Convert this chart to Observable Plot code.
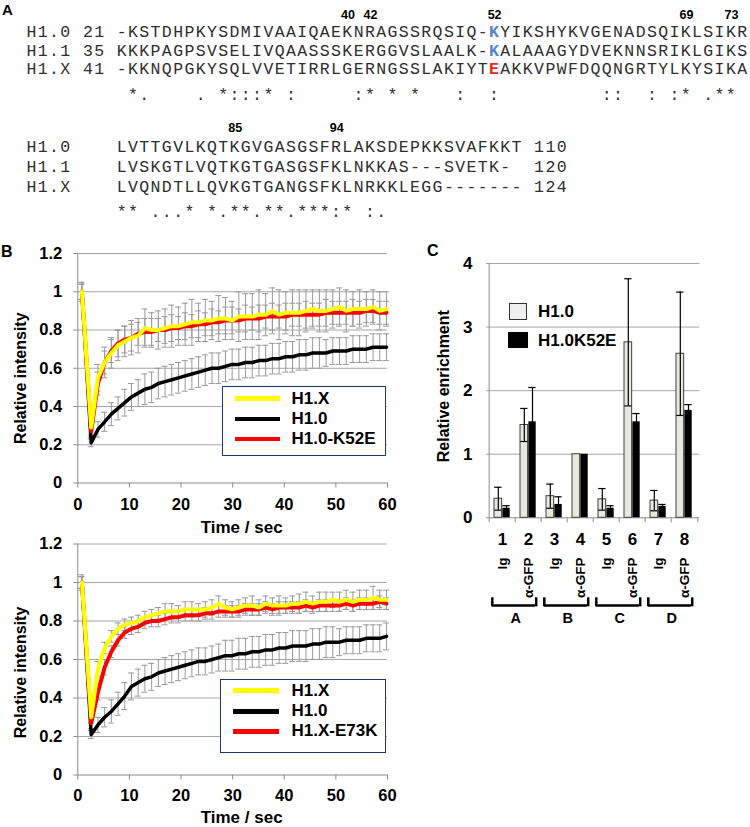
<!DOCTYPE html>
<html><head><meta charset="utf-8">
<script src="https://cdn.jsdelivr.net/npm/d3@7"></script>
<script src="https://cdn.jsdelivr.net/npm/@observablehq/plot@0.6"></script>
<style>
html,body{margin:0;padding:0;background:#fff;}
#fig{position:relative;width:750px;height:827px;overflow:hidden;background:#fff;font-family:"Liberation Sans",Arial,sans-serif;}
.lab{position:absolute;white-space:pre;line-height:1;}
</style></head>
<body><div id="fig"></div>
<script>
// ---------------- DATA ----------------
// Panel A: alignment
const seqNames = ["H1.0", "H1.1", "H1.X"];
const seqStarts = ["21", "35", "41"];
const seqPre = ["-KSTDHPKYSDMIVAAIQAEKNRAGSSRQSIQ-", "KKKPAGPSVSELIVQAASSSKERGGVSLAALK-", "-KKNQPGKYSQLVVETIRRLGERNGSSLAKIYT"];
const seqKey = ["K", "K", "E"];
const seqKeyColor = ["#5284c4", "#5284c4", "#e8251f"];
const seqPost = ["YIKSHYKVGENADSQIKLSIKR", "ALAAAGYDVEKNNSRIKLGIKS", "AKKVPWFDQQNGRTYLKYSIKA"];
const cons1 = "         *.    . *:::* :     :* * *   :  :         ::  : :* .**";
const seq2 = ["LVTTGVLKQTKGVGASGSFRLAKSDEPKKSVAFKKT", "LVSKGTLVQTKGTGASGSFKLNKKAS---SVETK-", "LVQNDTLLQVKGTGANGSFKLNRKKLEGG-------"];
const seqEnds = ["110", "120", "124"];
const cons2 = "        ** ...* *.**.**.***:* :.";
const marks1 = [40, 42, 52, 69, 73];
const marks2 = [85, 94];

// Panel B: FRAP
const T = [0.8, 2.6, 3.9, 5.2, 6.5, 7.8, 9.1, 10.4, 11.7, 13.0, 14.3, 15.6, 16.9, 18.2, 19.5, 20.8, 22.1, 23.4, 24.7, 26.0, 27.3, 28.6, 29.9, 31.2, 32.5, 33.8, 35.1, 36.4, 37.7, 39.0, 40.3, 41.6, 42.9, 44.2, 45.5, 46.8, 48.1, 49.4, 50.7, 52.0, 53.3, 54.6, 55.9, 57.2, 58.5, 59.8];
const topH1X = [1.00, 0.29, 0.55, 0.63, 0.68, 0.72, 0.74, 0.76, 0.77, 0.81, 0.80, 0.80, 0.81, 0.82, 0.82, 0.83, 0.84, 0.84, 0.85, 0.85, 0.86, 0.86, 0.85, 0.87, 0.87, 0.87, 0.88, 0.88, 0.90, 0.88, 0.89, 0.89, 0.89, 0.90, 0.91, 0.90, 0.90, 0.91, 0.92, 0.90, 0.91, 0.91, 0.91, 0.92, 0.90, 0.91];
const topH1XErr = [0.05, 0.04, 0.07, 0.08, 0.08, 0.08, 0.08, 0.09, 0.09, 0.10, 0.09, 0.10, 0.10, 0.11, 0.10, 0.11, 0.12, 0.10, 0.11, 0.10, 0.12, 0.11, 0.10, 0.13, 0.12, 0.12, 0.13, 0.11, 0.12, 0.13, 0.11, 0.12, 0.12, 0.11, 0.10, 0.11, 0.11, 0.10, 0.10, 0.11, 0.09, 0.10, 0.09, 0.09, 0.10, 0.09];
const topH10 = [1.00, 0.21, 0.28, 0.32, 0.36, 0.39, 0.42, 0.45, 0.47, 0.49, 0.50, 0.52, 0.53, 0.54, 0.55, 0.56, 0.57, 0.58, 0.59, 0.60, 0.60, 0.61, 0.62, 0.62, 0.63, 0.63, 0.64, 0.64, 0.65, 0.65, 0.66, 0.66, 0.67, 0.67, 0.68, 0.68, 0.68, 0.69, 0.69, 0.69, 0.70, 0.70, 0.70, 0.71, 0.71, 0.71];
const topH10Err = [0.04, 0.02, 0.04, 0.05, 0.06, 0.06, 0.07, 0.07, 0.07, 0.08, 0.08, 0.08, 0.08, 0.08, 0.08, 0.08, 0.08, 0.08, 0.08, 0.08, 0.08, 0.08, 0.08, 0.08, 0.08, 0.08, 0.08, 0.08, 0.08, 0.08, 0.08, 0.08, 0.08, 0.08, 0.08, 0.08, 0.07, 0.07, 0.07, 0.07, 0.07, 0.07, 0.07, 0.07, 0.07, 0.07];
const topK52E = [1.00, 0.27, 0.52, 0.63, 0.69, 0.73, 0.75, 0.76, 0.78, 0.79, 0.79, 0.80, 0.80, 0.81, 0.81, 0.82, 0.82, 0.83, 0.83, 0.84, 0.84, 0.85, 0.85, 0.85, 0.86, 0.86, 0.86, 0.87, 0.87, 0.87, 0.87, 0.88, 0.88, 0.88, 0.88, 0.88, 0.89, 0.89, 0.89, 0.89, 0.89, 0.89, 0.90, 0.90, 0.89, 0.89];
const topK52EErr = [0.04, 0.03, 0.06, 0.06, 0.06, 0.07, 0.07, 0.07, 0.06, 0.07, 0.07, 0.06, 0.07, 0.07, 0.06, 0.07, 0.06, 0.07, 0.06, 0.07, 0.06, 0.07, 0.07, 0.06, 0.07, 0.06, 0.07, 0.06, 0.07, 0.06, 0.07, 0.06, 0.06, 0.07, 0.06, 0.06, 0.07, 0.06, 0.06, 0.06, 0.07, 0.06, 0.06, 0.06, 0.06, 0.06];

const botH1X = [1.00, 0.30, 0.55, 0.66, 0.72, 0.76, 0.78, 0.79, 0.80, 0.82, 0.83, 0.84, 0.85, 0.85, 0.85, 0.86, 0.86, 0.86, 0.86, 0.87, 0.89, 0.87, 0.86, 0.87, 0.88, 0.88, 0.87, 0.89, 0.88, 0.88, 0.88, 0.89, 0.89, 0.90, 0.89, 0.90, 0.90, 0.91, 0.90, 0.91, 0.90, 0.91, 0.91, 0.92, 0.91, 0.91];
const botH1XErr = [0.04, 0.03, 0.04, 0.03, 0.03, 0.03, 0.03, 0.03, 0.03, 0.03, 0.03, 0.03, 0.04, 0.04, 0.03, 0.04, 0.04, 0.03, 0.04, 0.04, 0.04, 0.04, 0.04, 0.04, 0.04, 0.05, 0.04, 0.04, 0.04, 0.05, 0.04, 0.04, 0.05, 0.05, 0.04, 0.05, 0.05, 0.04, 0.05, 0.05, 0.05, 0.05, 0.05, 0.06, 0.05, 0.05];
const botH10 = [1.00, 0.21, 0.26, 0.30, 0.33, 0.37, 0.41, 0.46, 0.48, 0.50, 0.51, 0.53, 0.54, 0.55, 0.56, 0.57, 0.58, 0.59, 0.59, 0.60, 0.61, 0.62, 0.62, 0.63, 0.63, 0.64, 0.64, 0.65, 0.65, 0.66, 0.66, 0.67, 0.67, 0.67, 0.68, 0.68, 0.69, 0.69, 0.69, 0.70, 0.70, 0.70, 0.71, 0.71, 0.71, 0.72];
const botH10Err = [0.03, 0.02, 0.04, 0.05, 0.06, 0.06, 0.07, 0.07, 0.07, 0.07, 0.07, 0.07, 0.07, 0.07, 0.07, 0.07, 0.07, 0.07, 0.07, 0.07, 0.07, 0.08, 0.08, 0.08, 0.08, 0.08, 0.08, 0.08, 0.08, 0.08, 0.08, 0.08, 0.08, 0.08, 0.08, 0.08, 0.08, 0.08, 0.07, 0.07, 0.07, 0.07, 0.07, 0.07, 0.07, 0.07];
const botE73K = [1.00, 0.27, 0.43, 0.56, 0.64, 0.70, 0.74, 0.76, 0.77, 0.79, 0.80, 0.80, 0.81, 0.82, 0.82, 0.83, 0.83, 0.83, 0.84, 0.84, 0.85, 0.85, 0.85, 0.85, 0.86, 0.86, 0.86, 0.87, 0.86, 0.87, 0.87, 0.87, 0.87, 0.88, 0.87, 0.88, 0.88, 0.88, 0.88, 0.89, 0.88, 0.89, 0.89, 0.89, 0.90, 0.89];
const botE73KErr = [0.03, 0.03, 0.04, 0.04, 0.03, 0.03, 0.03, 0.03, 0.03, 0.03, 0.03, 0.03, 0.03, 0.03, 0.03, 0.03, 0.03, 0.03, 0.03, 0.03, 0.03, 0.03, 0.03, 0.03, 0.03, 0.03, 0.03, 0.03, 0.03, 0.03, 0.03, 0.03, 0.03, 0.03, 0.03, 0.03, 0.03, 0.03, 0.03, 0.03, 0.03, 0.03, 0.03, 0.03, 0.03, 0.03];
const yTicksB = [0, 0.2, 0.4, 0.6, 0.8, 1, 1.2];
const xTicksB = [0, 10, 20, 30, 40, 50, 60];

// Panel C: ChIP enrichment
const cats = ["1", "2", "3", "4", "5", "6", "7", "8"];
const abLabels = ["Ig", "α-GFP", "Ig", "α-GFP", "Ig", "α-GFP", "Ig", "α-GFP"];
const h10 = [0.30, 1.46, 0.34, 1.00, 0.29, 2.76, 0.27, 2.58];
const h10Err = [0.18, 0.26, 0.19, 0, 0.17, 1.00, 0.16, 0.97];
const k52e = [0.15, 1.51, 0.21, 1.00, 0.15, 1.51, 0.18, 1.69];
const k52eErr = [0.04, 0.54, 0.12, 0, 0.04, 0.13, 0.03, 0.09];
const groupNames = ["A", "B", "C", "D"];
const groupFrom = ["1", "3", "5", "7"];
const groupTo = ["2", "4", "6", "8"];
const yTicksC = [0, 1, 2, 3, 4];

// ---------------- STYLE / LAYOUT ----------------
const SANS = '"Liberation Sans", Arial, sans-serif';
const MONO = '"Liberation Mono", "Courier New", monospace';
const GRID = "#a6a6a6", AXIS = "#8c8c8c", ERR = "#999999";
const fig = document.getElementById("fig");

function put(node, left, top) {
  const d = document.createElement("div");
  d.style.cssText = `position:absolute;left:${left}px;top:${top}px;`;
  d.appendChild(node);
  fig.appendChild(d);
}
function label(txt, x, base, fs, color = "#000") {
  const d = document.createElement("div");
  d.className = "lab";
  d.textContent = txt;
  d.style.cssText += `left:${x}px;top:${base - 0.8465 * fs}px;font-size:${fs}px;font-weight:bold;color:${color};font-family:${SANS};`;
  fig.appendChild(d);
}
function box(left, top, w, h, css) {
  const d = document.createElement("div");
  d.style.cssText = `position:absolute;left:${left}px;top:${top}px;width:${w}px;height:${h}px;box-sizing:border-box;${css}`;
  fig.appendChild(d);
}
const plotStyle = {background: "transparent", overflow: "visible", fontFamily: SANS, fontWeight: "bold", fontSize: "15px", color: "#000"};
const bold = (fs) => ({fontSize: fs, fontWeight: "bold", fontFamily: SANS, fill: "#000"});

// ---------------- PANEL A ----------------
const CELL = 11.28;          // column pitch in px
const MONO_FS = 16.5;        // glyph size; pitch kept by letter-spacing
const BASE = {n1: 18.5, r1: [36, 55, 73.5], c1: 99, n2: 131.5, r2: [151, 171, 191], c2: 216};
const plainA = [], keyA = [], numA = [];
seqNames.forEach((n, i) => {
  plainA.push({col: 0, y: BASE.r1[i], text: n});
  plainA.push({col: 5, y: BASE.r1[i], text: seqStarts[i]});
  plainA.push({col: 8, y: BASE.r1[i], text: seqPre[i]});
  keyA.push({col: 8 + seqPre[i].length, y: BASE.r1[i], text: seqKey[i], color: seqKeyColor[i]});
  plainA.push({col: 9 + seqPre[i].length, y: BASE.r1[i], text: seqPost[i]});
  plainA.push({col: 0, y: BASE.r2[i], text: n});
  plainA.push({col: 8, y: BASE.r2[i], text: seq2[i]});
  plainA.push({col: 45, y: BASE.r2[i], text: seqEnds[i]});
});
for (const m of cons1.matchAll(/\S+/g)) plainA.push({col: m.index, y: BASE.c1, text: m[0]});
for (const m of cons2.matchAll(/\S+/g)) plainA.push({col: m.index, y: BASE.c2, text: m[0]});
const full1 = seqPre[0] + seqKey[0] + seqPost[0];
function colOf(seq, first, n) {
  let r = first - 1;
  for (let k = 0; k < seq.length; k++) { if (seq[k] !== "-") r++; if (r === n) return 8 + k; }
}
marks1.forEach(n => numA.push({col: colOf(full1, 21, n), y: BASE.n1, text: String(n)}));
marks2.forEach(n => numA.push({col: colOf(seq2[0], 75, n), y: BASE.n2, text: String(n)}));

const panelA = Plot.plot({
  width: 750, height: 225, marginTop: 0, marginBottom: 0, marginLeft: 26, marginRight: 750 - 26 - 64 * CELL,
  axis: null,
  x: {domain: [0, 64], axis: null},
  y: {type: "identity", axis: null},
  style: plotStyle,
  marks: [
    Plot.text(plainA, {x: "col", y: "y", text: "text", textAnchor: "start", lineAnchor: "bottom", fontFamily: MONO, fontSize: MONO_FS, fontWeight: "normal", fill: "#2e2e2e"}),
    Plot.text(keyA, {x: "col", y: "y", text: "text", textAnchor: "start", lineAnchor: "bottom", fontFamily: MONO, fontSize: MONO_FS, fontWeight: "bold", fill: "color"}),
    Plot.text(numA, {x: d => d.col + 0.5, y: "y", text: "text", textAnchor: "middle", lineAnchor: "bottom", fontFamily: SANS, fontSize: 12.5, fontWeight: "bold", fill: "#000"})
  ]
});
// keep the monospace pitch equal to one column
d3.select(panelA).selectAll("g[font-family*='Mono'] text").style("letter-spacing", (CELL - 0.6 * MONO_FS) + "px");
put(panelA, 0, 0);

// ---------------- PANEL B ----------------
function frap({height, mt, mb, series, tickPad, titleDy, ylabDy}) {
  const errs = series.flatMap(s => T.map((t, i) => ({t, lo: s.v[i] - s.e[i], hi: s.v[i] + s.e[i]})));
  return Plot.plot({
    width: 400, height, marginLeft: 77.3, marginRight: 13, marginTop: mt, marginBottom: mb,
    axis: null,
    x: {domain: [0, 60], axis: null},
    y: {domain: [0, 1.2], axis: null},
    style: plotStyle,
    marks: [
      Plot.ruleY(yTicksB.filter(d => d > 0), {stroke: GRID, strokeWidth: 1}),
      Plot.ruleY([0], {stroke: AXIS}),
      Plot.ruleX([0], {stroke: AXIS}),
      Plot.ruleY(yTicksB, {y: d => d, x1: 0, x2: 0, insetLeft: -4, stroke: AXIS}),
      Plot.ruleX(xTicksB, {x: d => d, y1: 0, y2: 0, insetBottom: -5, stroke: AXIS}),
      Plot.text(yTicksB, {y: d => d, text: d => String(d), frameAnchor: "left", dx: -15.6, textAnchor: "end", lineAnchor: "middle", ...bold(16.5)}),
      Plot.text(xTicksB, {x: d => d, text: d => String(d), frameAnchor: "bottom", dy: 5 + tickPad, textAnchor: "middle", lineAnchor: "top", ...bold(16.5)}),
      Plot.ruleX(errs, {x: "t", y1: "lo", y2: "hi", stroke: ERR, strokeWidth: 1}),
      Plot.ruleY(errs, {y: "hi", x1: "t", x2: "t", insetLeft: -3, insetRight: -3, stroke: ERR, strokeWidth: 1}),
      Plot.ruleY(errs, {y: "lo", x1: "t", x2: "t", insetLeft: -3, insetRight: -3, stroke: ERR, strokeWidth: 1}),
      ...series.map(s => Plot.line(T.map((t, i) => ({t, v: s.v[i]})), {x: "t", y: "v", stroke: s.color, strokeWidth: s.w, strokeLinejoin: "round"})),
      Plot.text(["Time / sec"], {frameAnchor: "bottom", dx: 9, dy: titleDy, textAnchor: "middle", lineAnchor: "bottom", ...bold(17)}),
      Plot.text(["Relative intensity"], {frameAnchor: "left", rotate: -90, dx: -57.3, dy: ylabDy, textAnchor: "middle", lineAnchor: "middle", ...bold(16)})
    ]
  });
}
const bTop = frap({height: 300, mt: 13, mb: 57.5, tickPad: 10.3, titleDy: 50, ylabDy: 10, series: [
  {v: topH10, e: topH10Err, color: "#000", w: 3.5},
  {v: topK52E, e: topK52EErr, color: "#ff0000", w: 4},
  {v: topH1X, e: topH1XErr, color: "#ffff00", w: 4}
]});
put(bTop, 0, 240);
const bBot = frap({height: 297, mt: 13.5, mb: 52.5, tickPad: 9, titleDy: 48, ylabDy: 13, series: [
  {v: botH10, e: botH10Err, color: "#000", w: 3.5},
  {v: botE73K, e: botE73KErr, color: "#ff0000", w: 4},
  {v: botH1X, e: botH1XErr, color: "#ffff00", w: 4}
]});
put(bBot, 0, 530);

// legends B
box(222, 386, 164, 70, "border:1px solid #1f3864;background:#fff;");
[["H1.X", "#ffff00", 398, 404], ["H1.0", "#000", 418.7, 424], ["H1.0-K52E", "#ff0000", 438.7, 444]].forEach(([t, c, cy, b]) => {
  box(235, cy - 2, 45, 4.5, `background:${c};`);
  label(t, 291.5, b, 17);
});
box(220, 679, 166, 74, "border:1px solid #1f3864;background:#fff;");
[["H1.X", "#ffff00", 690.3, 696.7], ["H1.0", "#000", 711.3, 716.7], ["H1.X-E73K", "#ff0000", 731.3, 736.7]].forEach(([t, c, cy, b]) => {
  box(233, cy - 2, 46, 4.5, `background:${c};`);
  label(t, 291.5, b, 17);
});

// ---------------- PANEL C ----------------
const tableC = cats.map((c, i) => ({cat: c, h10: h10[i], h10e: h10Err[i], k: k52e[i], ke: k52eErr[i], ab: abLabels[i]}));
const groupsC = groupNames.map((g, i) => ({name: g, from: groupFrom[i], to: groupTo[i]}));
const BW = (350 - 86 - 50.7) / 8;
const errH = tableC.filter(d => d.h10e > 0), errK = tableC.filter(d => d.ke > 0);
const panelC = Plot.plot({
  width: 350, height: 387, marginLeft: 86, marginRight: 50.7, marginTop: 23, marginBottom: 109.7,
  axis: null,
  x: {type: "band", domain: cats, padding: 0, axis: null},
  y: {domain: [0, 4], axis: null},
  style: plotStyle,
  marks: [
    Plot.ruleY(yTicksC.filter(d => d > 0), {stroke: GRID}),
    Plot.ruleY([0], {stroke: AXIS}),
    Plot.ruleX([cats[0]], {dx: -BW / 2, stroke: AXIS}),
    Plot.ruleY(yTicksC, {y: d => d, x1: cats[0], x2: cats[0], insetLeft: -4, insetRight: BW, stroke: AXIS}),
    Plot.ruleX(cats, {x: d => d, y1: 0, y2: 0, dx: -BW / 2, insetBottom: -5, stroke: AXIS}),
    Plot.ruleX([cats[cats.length - 1]], {x: d => d, y1: 0, y2: 0, dx: BW / 2, insetBottom: -5, stroke: AXIS}),
    Plot.text(yTicksC, {y: d => d, text: d => String(d), frameAnchor: "left", dx: -14, textAnchor: "end", lineAnchor: "middle", ...bold(17)}),
    Plot.text(cats, {x: d => d, text: d => d, frameAnchor: "bottom", dy: 15.2, textAnchor: "middle", lineAnchor: "top", ...bold(17)}),
    Plot.barY(tableC, {x: "cat", y: "h10", fill: "#e8e8e0", stroke: "#404040", strokeWidth: 1, insetLeft: 5, insetRight: 13.35}),
    Plot.barY(tableC, {x: "cat", y: "k", fill: "#000", insetLeft: 13.35, insetRight: 5.3}),
    Plot.ruleX(errH, {x: "cat", y1: d => d.h10 - d.h10e, y2: d => d.h10 + d.h10e, dx: -4.2, stroke: "#000", strokeWidth: 1.2}),
    Plot.ruleY(errH, {y: d => d.h10 + d.h10e, x1: "cat", x2: "cat", insetLeft: 5.2, insetRight: 13.5, stroke: "#000", strokeWidth: 1.2}),
    Plot.ruleY(errH, {y: d => d.h10 - d.h10e, x1: "cat", x2: "cat", insetLeft: 5.2, insetRight: 13.5, stroke: "#000", strokeWidth: 1.2}),
    Plot.ruleX(errK, {x: "cat", y1: d => d.k - d.ke, y2: d => d.k + d.ke, dx: 4, stroke: "#000", strokeWidth: 1.2}),
    Plot.ruleY(errK, {y: d => d.k + d.ke, x1: "cat", x2: "cat", insetLeft: 13.3, insetRight: 5.4, stroke: "#000", strokeWidth: 1.2}),
    Plot.text(tableC, {x: "cat", text: "ab", frameAnchor: "bottom", rotate: -90, textAnchor: "end", lineAnchor: "middle", dy: 39.7, ...bold(13.5)}),
    Plot.ruleY(groupsC, {y: 0, x1: "from", x2: "to", dy: 87.7, insetLeft: 3, insetRight: 6, stroke: "#000", strokeWidth: 2.5}),
    Plot.ruleX(groupsC, {x: "from", y1: 0, y2: 0, dx: -10.2, dy: 80, insetBottom: -9, stroke: "#000", strokeWidth: 2.5}),
    Plot.ruleX(groupsC, {x: "to", y1: 0, y2: 0, dx: 7.7, dy: 80, insetBottom: -9, stroke: "#000", strokeWidth: 2.5}),
    Plot.text(groupsC, {x: "from", text: "name", frameAnchor: "bottom", dx: BW / 2, dy: 100.7, textAnchor: "middle", lineAnchor: "middle", ...bold(14.5)}),
    Plot.text(["Relative enrichment"], {frameAnchor: "left", rotate: -90, dx: -43, dy: -4.5, textAnchor: "middle", lineAnchor: "middle", ...bold(16)})
  ]
});
put(panelC, 400, 240);
box(509, 303, 18, 17, "background:#efefef;border:1px solid #333;");
label("H1.0", 538, 317.5, 17);
box(508, 332, 20, 16, "background:#000;");
label("H1.0K52E", 538, 346.5, 17);

// panel letters
label("A", 2, 15, 15);
label("B", 1, 258, 16);
label("C", 427, 256.7, 16);
</script>
</body></html>
